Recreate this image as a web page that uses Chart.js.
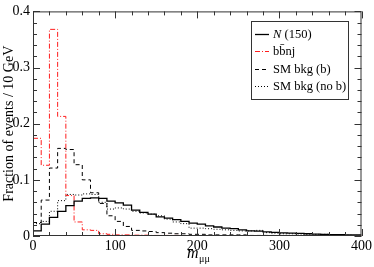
<!DOCTYPE html>
<html>
<head>
<meta charset="utf-8">
<style>html,body{margin:0;padding:0;background:#fff}</style>
</head>
<body>
<canvas id="myChart" width="374" height="267"></canvas>
<script src="https://cdn.jsdelivr.net/npm/chart.js"></script>
<script>
// left edges of the 10 GeV bins
const binEdges = [0, 10, 20, 30, 40, 50, 60, 70, 80, 90,
  100, 110, 120, 130, 140, 150, 160, 170, 180, 190,
  200, 210, 220, 230, 240, 250, 260, 270, 280, 290,
  300, 310, 320, 330, 340, 350, 360, 370, 380, 390];
const lastEdge = 400;

const seriesLabels = ["N (150)", "bb\u0304nj", "SM bkg (b)", "SM bkg (no b)"];

const nSignal = [0.009, 0.021, 0.033, 0.044, 0.054, 0.062, 0.067, 0.068, 0.067, 0.062,
  0.059, 0.055, 0.046, 0.042, 0.039, 0.034, 0.032, 0.029, 0.026, 0.023,
  0.021, 0.018, 0.016, 0.014, 0.013, 0.011, 0.009, 0.0086, 0.0075, 0.0063,
  0.0057, 0.005, 0.0045, 0.004, 0.0035, 0.003, 0.0025, 0.0022, 0.002, 0.0018];

const bbnj = [0.174, 0.126, 0.368, 0.213, 0.072, 0.025, 0.011, 0.010, 0.004, 0.003,
  0.002, 0.002, 0.0015, 0.0015, 0.001, 0.001, 0.001, 0.001, 0.0008, 0.0008,
  0.0006, 0.0006, 0.0005, 0.0005, 0.0004, 0.0004, 0.0003, 0.0003, 0.0003, 0.0002,
  0.0002, 0.0002, 0.0002, 0.0001, 0.0001, 0.0001, 0.0001, 0, 0, 0];

const smBkgB = [0.024, 0.064, 0.121, 0.156, 0.154, 0.127, 0.100, 0.077, 0.058, 0.036,
  0.026, 0.017, 0.010, 0.009, 0.008, 0.006, 0.005, 0.004, 0.004, 0.003,
  0.003, 0.002, 0.002, 0.002, 0.002, 0.002, 0.001, 0.001, 0.001, 0.001,
  0.001, 0.001, 0.0008, 0.0008, 0.0006, 0.0006, 0.0005, 0.0005, 0.0004, 0.0004];

const smBkgNoB = [0.022, 0.026, 0.044, 0.063, 0.074, 0.073, 0.075, 0.074, 0.060, 0.048,
  0.050, 0.048, 0.044, 0.041, 0.039, 0.036, 0.030, 0.025, 0.022, 0.014,
  0.014, 0.013, 0.012, 0.011, 0.010, 0.009, 0.009, 0.010, 0.006, 0.005,
  0.004, 0.004, 0.0035, 0.003, 0.003, 0.003, 0.0025, 0.002, 0.0015, 0.001];

const xTicks = [0, 100, 200, 300, 400];
const yTicks = [0, 0.1, 0.2, 0.3, 0.4];

const FONT = "'Liberation Serif', 'DejaVu Serif', serif";

// histogram points: left edges + closing point at the last edge
function toSteps(vals) {
  const pts = binEdges.map((x, i) => ({ x: x, y: vals[i] }));
  pts.push({ x: lastEdge, y: vals[vals.length - 1] });
  return pts;
}

const frameAndLegend = {
  id: "frameAndLegend",
  afterDraw(chart) {
    const ctx = chart.ctx;
    const a = chart.chartArea;
    const xs = chart.scales.x, ys = chart.scales.y;
    ctx.save();
    ctx.strokeStyle = "#333";
    ctx.lineWidth = 1;
    ctx.strokeRect(a.left + 0.5, a.top + 0.5, a.right - a.left - 1, a.bottom - a.top - 1);

    // inward ticks on all four sides
    ctx.beginPath();
    for (let v = 0; v <= 400; v += 20) {
      const px = Math.round(xs.getPixelForValue(v)) + 0.5;
      const len = v % 100 === 0 ? 7 : 4;
      ctx.moveTo(px, a.bottom); ctx.lineTo(px, a.bottom - len);
      ctx.moveTo(px, a.top); ctx.lineTo(px, a.top + len);
    }
    for (let k = 0; k <= 20; k++) {
      const py = Math.round(ys.getPixelForValue(k * 0.02)) + 0.5;
      const len = k % 5 === 0 ? 7 : 4;
      ctx.moveTo(a.left, py); ctx.lineTo(a.left + len, py);
      ctx.moveTo(a.right, py); ctx.lineTo(a.right - len, py);
    }
    ctx.stroke();

    // axis titles
    ctx.fillStyle = "#000";
    ctx.save();
    ctx.translate(9, (a.top + a.bottom) / 2);
    ctx.rotate(-Math.PI / 2);
    ctx.textAlign = "center";
    ctx.textBaseline = "middle";
    ctx.font = "14px " + FONT;
    ctx.fillText("Fraction of events / 10 GeV", 0, 0);
    ctx.restore();

    ctx.textAlign = "left";
    ctx.textBaseline = "alphabetic";
    ctx.font = "italic 16px " + FONT;
    ctx.fillText("m", 187, 258);
    const mw = ctx.measureText("m").width;
    ctx.font = "10px " + FONT;
    ctx.fillText("\u03bc\u03bc", 187 + mw + 0.5, 262);

    // legend
    const bx = 251, by = 21, bw = 97, bh = 78;
    ctx.fillStyle = "#fff";
    ctx.fillRect(bx, by, bw, bh);
    ctx.strokeStyle = "#333";
    ctx.strokeRect(bx + 0.5, by + 0.5, bw, bh);
    const rows = [33.5, 51, 68.5, 86];
    chart.data.datasets.forEach((ds, i) => {
      const y = Math.round(rows[i]) + 0.5;
      ctx.strokeStyle = ds.borderColor;
      ctx.lineWidth = ds.borderWidth;
      ctx.setLineDash(ds.borderDash || []);
      ctx.beginPath();
      ctx.moveTo(255, y); ctx.lineTo(269, y);
      ctx.stroke();
      ctx.setLineDash([]);
      ctx.fillStyle = "#000";
      ctx.textBaseline = "middle";
      if (i === 0) {
        ctx.font = "italic 12.5px " + FONT;
        ctx.fillText("N", 273, y);
        const w = ctx.measureText("N").width;
        ctx.font = "12.5px " + FONT;
        ctx.fillText(ds.label.slice(1), 273 + w, y);
      } else {
        ctx.font = "12.5px " + FONT;
        ctx.fillText(ds.label, 273, y);
      }
    });
    ctx.restore();
  }
};

const ctx = document.getElementById("myChart").getContext("2d");
const myChart = new Chart(ctx, {
  type: "line",
  data: {
    datasets: [
      { label: seriesLabels[0], data: toSteps(nSignal), borderColor: "#000", borderWidth: 1.3, borderDash: [] },
      { label: seriesLabels[1], data: toSteps(bbnj), borderColor: "rgb(255,30,30)", borderWidth: 1, borderDash: [5, 2, 1, 2] },
      { label: seriesLabels[2], data: toSteps(smBkgB), borderColor: "#000", borderWidth: 1, borderDash: [4, 3] },
      { label: seriesLabels[3], data: toSteps(smBkgNoB), borderColor: "#000", borderWidth: 1, borderDash: [1, 2] }
    ]
  },
  options: {
    responsive: false,
    animation: false,
    layout: { padding: { left: 0, top: 4, right: 10, bottom: 0 } },
    elements: { point: { radius: 0 }, line: { stepped: "before", tension: 0, fill: false } },
    plugins: { legend: { display: false }, tooltip: { enabled: false } },
    scales: {
      x: {
        type: "linear", min: 0, max: 400,
        afterFit: (s) => { s.height = 31; },
        afterBuildTicks: (s) => { s.ticks = xTicks.map(v => ({ value: v })); },
        grid: { display: false, drawTicks: false },
        border: { display: false },
        ticks: { font: { family: FONT, size: 14 }, color: "#000", padding: 2, maxRotation: 0 }
      },
      y: {
        type: "linear", min: 0, max: 0.4,
        afterFit: (s) => { s.width = 33; },
        afterBuildTicks: (s) => { s.ticks = yTicks.map(v => ({ value: v })); },
        grid: { display: false, drawTicks: false },
        border: { display: false },
        ticks: { font: { family: FONT, size: 14 }, color: "#000", padding: 3 }
      }
    }
  },
  plugins: [frameAndLegend]
});
</script>
</body>
</html>
